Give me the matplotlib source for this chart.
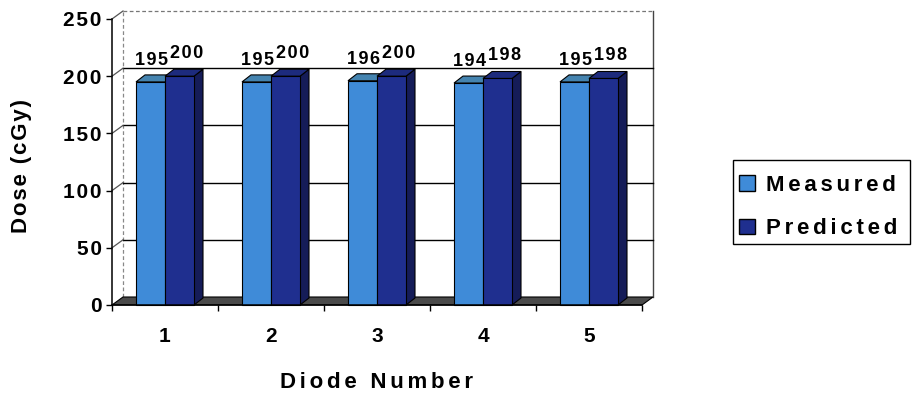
import matplotlib
matplotlib.use("Agg")
import matplotlib.pyplot as plt
from matplotlib.patches import Polygon, Patch, Rectangle

# ---- data ----
diodes = ["1", "2", "3", "4", "5"]
measured = [195, 195, 196, 194, 195]
predicted = [200, 200, 200, 198, 198]
y_ticks = [0, 50, 100, 150, 200, 250]

plt.rcParams["font.family"] = ["Liberation Sans", "DejaVu Sans"]
plt.rcParams["font.weight"] = "bold"

W, H = 914, 398
fig = plt.figure(figsize=(W / 100, H / 100), dpi=100)
fig.patch.set_facecolor("white")

# front plane of the 3-D frame
ax = fig.add_axes([112 / W, (H - 305) / H, 530 / W, 286 / H])
ax.set_xlim(0, len(diodes))
ax.set_ylim(0, 250)

# pixel -> data conversion for the oblique depth
px_x = len(diodes) / 530
px_y = 250 / 286
wall_dx, wall_dy = 11 * px_x, 8 * px_y
bar_dx, bar_dy = 9 * px_x, 7 * px_y
bar_w = 29 * px_x
group_off = 24 * px_x

c_meas = ("#3f8bd8", "#4584b0", "#2a5f95")
c_pred = ("#1f2f8f", "#1d2b7d", "#151c58")

HAIR = "\u200a"
SIXTH = "\u2006"


def spread(s, gap=HAIR):
    """Letter-spaced text."""
    return gap.join(s)


def poly(pts, **kw):
    p = Polygon(pts, closed=True, clip_on=False, **kw)
    ax.add_patch(p)
    return p


n = len(diodes)
top = y_ticks[-1]

# back wall
poly([(wall_dx, wall_dy), (n + wall_dx, wall_dy), (n + wall_dx, top + wall_dy),
      (wall_dx, top + wall_dy)], facecolor="white", edgecolor="none", zorder=1)
ax.plot([wall_dx, n + wall_dx], [top + wall_dy] * 2, color="#777777", lw=0.9,
        ls=(0, (3, 2)), clip_on=False, zorder=2)
ax.plot([wall_dx, wall_dx], [wall_dy, top + wall_dy], color="#888888", lw=0.9,
        ls=(0, (3, 2)), clip_on=False, zorder=2)
ax.plot([n + wall_dx, n + wall_dx], [wall_dy, top + wall_dy], color="#444444",
        lw=1.0, clip_on=False, zorder=2)

# gridlines on back wall and side wall
for v in y_ticks[1:-1]:
    ax.plot([wall_dx, n + wall_dx], [v + wall_dy] * 2, color="black", lw=1.0,
            clip_on=False, zorder=2)
for v in y_ticks[1:]:
    ax.plot([0, wall_dx], [v, v + wall_dy], color="#555555", lw=0.9,
            clip_on=False, zorder=2)

# floor
poly([(0, 0), (n, 0), (n + wall_dx, wall_dy), (wall_dx, wall_dy)],
     facecolor="#4a4a4a", edgecolor="black", lw=0.8, zorder=3)


def column(x0, h, colors):
    front, topc, side = colors
    poly([(x0 + bar_w, 0), (x0 + bar_w + bar_dx, bar_dy),
          (x0 + bar_w + bar_dx, h + bar_dy), (x0 + bar_w, h)],
         facecolor=side, edgecolor="black", lw=0.8, zorder=4)
    poly([(x0, h), (x0 + bar_w, h), (x0 + bar_w + bar_dx, h + bar_dy),
          (x0 + bar_dx, h + bar_dy)],
         facecolor=topc, edgecolor="black", lw=0.8, zorder=4)
    poly([(x0, 0), (x0 + bar_w, 0), (x0 + bar_w, h), (x0, h)],
         facecolor=front, edgecolor="black", lw=0.8, zorder=4)


for i in range(n):
    xm = i + group_off
    xp = xm + bar_w
    column(xm, measured[i], c_meas)
    column(xp, predicted[i], c_pred)
    ax.text(xm + bar_w / 2 + 0.01, measured[i] + bar_dy + 6 * px_y,
            spread(str(measured[i])), ha="center", va="bottom", fontsize=13,
            zorder=6)
    ax.text(xp + bar_w / 2 + 0.07, predicted[i] + bar_dy + 7 * px_y,
            spread(str(predicted[i])), ha="center", va="bottom", fontsize=13,
            zorder=6)

# axes and ticks
for s in ("top", "right"):
    ax.spines[s].set_visible(False)
ax.spines["left"].set_linewidth(1.1)
ax.spines["bottom"].set_linewidth(1.1)
ax.spines["left"].set_zorder(5)
ax.spines["bottom"].set_zorder(5)
ax.patch.set_visible(False)

ax.set_yticks(y_ticks)
ax.set_yticklabels([spread(str(v)) for v in y_ticks])
ax.tick_params(axis="y", length=4.3, width=1.0, pad=3, labelsize=15)

ax.set_xticks(range(n + 1))
ax.set_xticklabels([])
ax.set_xticks([i + 0.5 for i in range(n)], minor=True)
ax.set_xticklabels(diodes, minor=True)
ax.tick_params(axis="x", which="major", length=4.3, width=1.0)
ax.tick_params(axis="x", which="minor", length=0, pad=16, labelsize=15)

fig.text(22 / W, 1 - 166 / H, spread("Dose (cGy)"), rotation=90,
         ha="center", va="center", fontsize=16, fontweight="bold")
fig.text(377 / W, 1 - 383 / H, spread("Diode Number", SIXTH),
         ha="center", va="center", fontsize=16, fontweight="bold")

# legend with its own frame
handles = [Patch(facecolor=c_meas[0], edgecolor="black"),
           Patch(facecolor=c_pred[0], edgecolor="black")]
leg = fig.legend(handles, [spread("Measured", SIXTH), spread("Predicted", SIXTH)],
                 loc="upper left", bbox_to_anchor=(739 / W, 1 - 175 / H),
                 frameon=False, fontsize=16, handlelength=0.7,
                 handleheight=0.7, handletextpad=0.5, borderpad=0,
                 labelspacing=1.0, borderaxespad=0)
fig.add_artist(Rectangle((733 / W, 1 - 244 / H), 177 / W, 84 / H,
                         transform=fig.transFigure, fill=False,
                         edgecolor="black", lw=1.0))

fig.savefig("out.png", dpi=100)
